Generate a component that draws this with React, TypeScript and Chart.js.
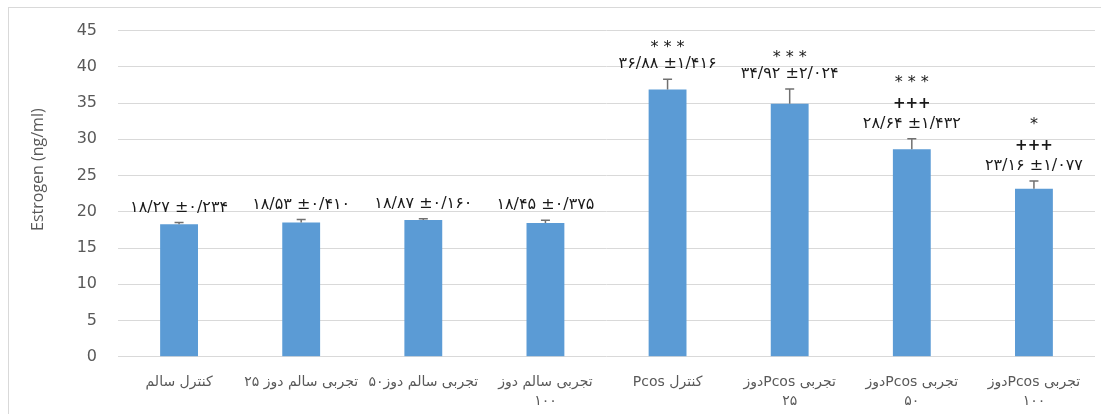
import React, { useEffect, useRef } from "react";
import { Chart, registerables } from "chart.js";

Chart.register(...registerables);

// Group names (each inner array is one wrapped label)
const categories: string[][] = [
  ["کنترل سالم"],
  ["تجربی سالم دوز ۲۵"],
  ["تجربی سالم دوز۵۰"],
  ["تجربی سالم دوز", "۱۰۰"],
  ["کنترل Pcos"],
  ["تجربی Pcosدوز", "۲۵"],
  ["تجربی Pcosدوز", "۵۰"],
  ["تجربی Pcosدوز", "۱۰۰"],
];

// Mean estrogen level (ng/ml) and its ± deviation per group
const means = [18.27, 18.53, 18.87, 18.45, 36.88, 34.92, 28.64, 23.16];
const deviations = [0.234, 0.41, 0.16, 0.375, 1.416, 2.024, 1.432, 1.077];

// Significance marks above each group
const stars = ["", "", "", "", "***", "***", "***", "*"];
const crosses = ["", "", "", "", "", "", "+++", "+++"];

// Value axis range
const yMin = 0;
const yMax = 45;
const yStep = 5;

const FA_DIGITS = "۰۱۲۳۴۵۶۷۸۹";
const toPersian = (s: string) =>
  s.replace(/\d/g, (d) => FA_DIGITS[Number(d)]).replace(".", "/");

// Force right-to-left ordering for category lines
const rtl = (s: string) => "\u202B" + s + "\u202C";

const BAR_COLOR = "#5b9bd5";
const GRID_COLOR = "#d9d9d9";
const TEXT_GRAY = "#595959";

const errorBarsAndLabels = {
  id: "errorBarsAndLabels",
  afterDatasetsDraw(chart: any) {
    const { ctx } = chart;
    const yScale = chart.scales.y;
    const meta = chart.getDatasetMeta(0);
    ctx.save();
    meta.data.forEach((bar: any, i: number) => {
      const x = bar.x;
      const top = yScale.getPixelForValue(means[i] + deviations[i]);

      // error bar
      ctx.strokeStyle = "#707070";
      ctx.lineWidth = 1.5;
      ctx.beginPath();
      ctx.moveTo(x, bar.y);
      ctx.lineTo(x, top);
      ctx.moveTo(x - 4.5, top);
      ctx.lineTo(x + 4.5, top);
      ctx.stroke();

      // value ± deviation
      ctx.textAlign = "center";
      ctx.textBaseline = "middle";
      ctx.fillStyle = "#1a1a1a";
      let ly = top - 15;
      ctx.font = "16px 'DejaVu Sans'";
      ctx.fillText(
        `${toPersian(means[i].toFixed(2))} ±${toPersian(deviations[i].toFixed(3))}`,
        x,
        ly
      );

      if (crosses[i]) {
        ly -= 20;
        ctx.font = "bold 15px 'DejaVu Sans'";
        ctx.fillText(crosses[i], x, ly);
      }
      if (stars[i]) {
        ly -= crosses[i] ? 25 : 20;
        ctx.font = "16px 'DejaVu Sans'";
        (ctx as any).letterSpacing = "5px";
        ctx.fillText(stars[i], x + 2.5, ly + 4);
        (ctx as any).letterSpacing = "0px";
      }
    });
    ctx.restore();
  },
};

const valueAxisTitle = {
  id: "valueAxisTitle",
  afterDraw(chart: any) {
    const { ctx, chartArea } = chart;
    ctx.save();
    ctx.translate(38, (chartArea.top + chartArea.bottom) / 2 - 24);
    ctx.rotate(-Math.PI / 2);
    ctx.textAlign = "center";
    ctx.textBaseline = "middle";
    ctx.fillStyle = TEXT_GRAY;
    ctx.font = "16px 'Open Sans'";
    ctx.fillText("Estrogen (ng/ml)", 0, 0);
    ctx.restore();
  },
};

export default function App() {
  const canvasRef = useRef<HTMLCanvasElement>(null);

  useEffect(() => {
    const canvas = canvasRef.current;
    if (!canvas) return;
    const chart = new Chart(canvas, {
      type: "bar",
      data: {
        labels: categories.map((c) => c.join(" ")),
        datasets: [
          {
            data: means,
            backgroundColor: BAR_COLOR,
            borderWidth: 0,
            barPercentage: 0.31,
            categoryPercentage: 1,
          },
        ],
      },
      options: {
        animation: false,
        responsive: false,
        devicePixelRatio: 1,
        layout: { padding: { top: 25, right: 13, bottom: 0, left: 0 } },
        plugins: {
          legend: { display: false },
          tooltip: { enabled: false },
        },
        scales: {
          x: {
            grid: { display: false, drawTicks: false, tickLength: 0 },
            border: { display: false },
            ticks: {
              autoSkip: false,
              maxRotation: 0,
              minRotation: 0,
              padding: 17,
              color: TEXT_GRAY,
              font: { family: "DejaVu Sans", size: 14, lineHeight: 1.3 },
              callback: (_v: any, i: number) => categories[i].map(rtl),
            },
            afterFit: (scale: any) => {
              scale.height = 57.3;
            },
          },
          y: {
            min: yMin,
            max: yMax,
            ticks: {
              stepSize: yStep,
              padding: 21,
              color: TEXT_GRAY,
              font: { family: "DejaVu Sans", size: 16 },
            },
            grid: { color: GRID_COLOR, lineWidth: 1, drawTicks: false },
            border: { display: false },
            afterFit: (scale: any) => {
              scale.width = 118;
            },
          },
        },
      },
      plugins: [errorBarsAndLabels, valueAxisTitle],
    });
    return () => chart.destroy();
  }, []);

  return (
    <div
      style={{
        position: "fixed",
        left: 0,
        top: 0,
        width: 1108,
        height: 414,
        background: "#ffffff",
        overflow: "hidden",
      }}
    >
      <div
        style={{
          position: "absolute",
          left: 8,
          top: 7,
          width: 1092,
          height: 420,
          borderLeft: `1px solid ${GRID_COLOR}`,
          borderTop: `1px solid ${GRID_COLOR}`,
        }}
      />
      <canvas
        ref={canvasRef}
        width={1108}
        height={414}
        style={{ position: "absolute", left: 0, top: 0, width: 1108, height: 414 }}
      />
    </div>
  );
}
